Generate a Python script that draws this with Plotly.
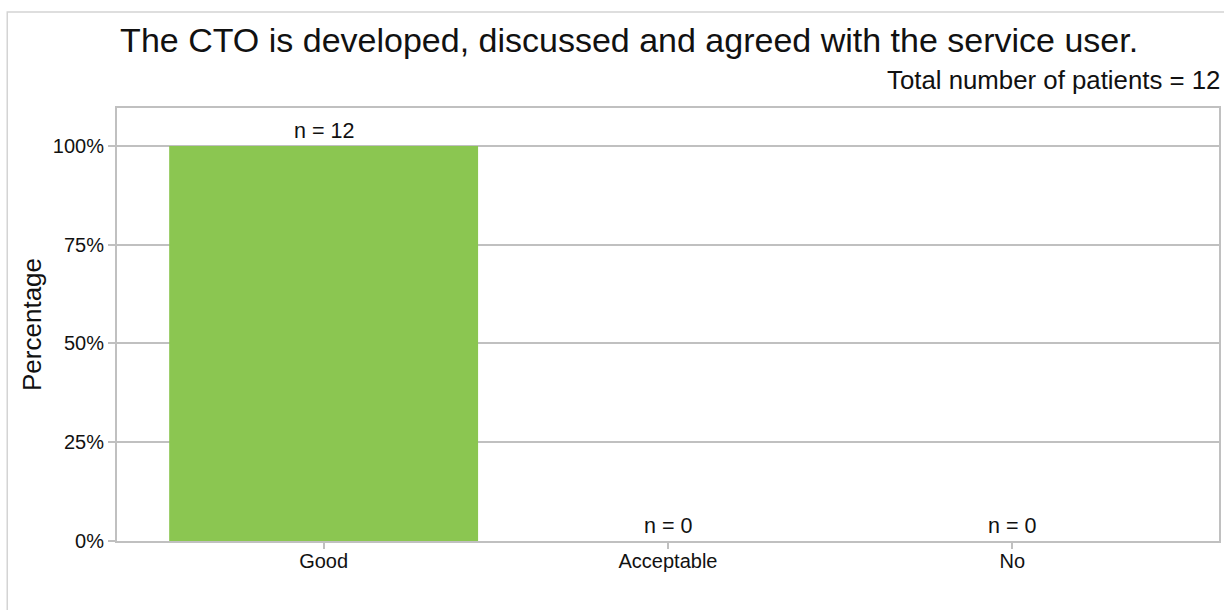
import plotly.graph_objects as go

categories = ["Good", "Acceptable", "No"]
percentages = [100, 0, 0]
counts = [12, 0, 0]
total_patients = 12
y_ticks = [0, 25, 50, 75, 100]
y_tick_labels = ["0%", "25%", "50%", "75%", "100%"]

GRID = "#c0c0c0"
FONT = "Liberation Sans, Arial, sans-serif"

fig = go.Figure(
    go.Bar(
        x=list(range(len(categories))),
        y=percentages,
        width=0.897,
        marker=dict(color="#8bc651", line=dict(width=0)),
        hoverinfo="skip",
    )
)

annotations = [
    dict(x=i, y=p, text=f"n = {n}", showarrow=False, yanchor="middle",
         yshift=15, font=dict(size=21.5, color="#111111"))
    for i, (p, n) in enumerate(zip(percentages, counts))
]
annotations.append(
    dict(xref="paper", yref="paper", x=1.0, y=1.0, yshift=12, xshift=3,
         xanchor="right", yanchor="bottom", showarrow=False,
         text=f"Total number of patients = {total_patients}",
         font=dict(size=25.8, color="#111111"))
)

fig.update_layout(
    width=1224,
    height=610,
    margin=dict(l=117, r=3, t=108, b=69),
    paper_bgcolor="white",
    plot_bgcolor="white",
    font=dict(family=FONT, color="#111111"),
    showlegend=False,
    title=dict(
        text="The CTO is developed, discussed and agreed with the service user.",
        x=0.514, xanchor="center", y=0.935, yanchor="middle",
        font=dict(size=34, color="#111111"),
    ),
    annotations=annotations,
    shapes=[
        dict(type="rect", xref="paper", yref="paper",
             x0=-0.0996, x1=1.02, y0=-0.2, y1=1.2217,
             line=dict(color="#d4d4d4", width=1.5), layer="below"),
    ],
    xaxis=dict(
        range=[-0.6, len(categories) - 0.4],
        tickvals=list(range(len(categories))),
        ticktext=categories,
        showgrid=False, zeroline=False,
        showline=True, linecolor=GRID, linewidth=2, mirror=True,
        ticks="outside", ticklen=6, tickwidth=2, tickcolor=GRID,
        ticklabelstandoff=-5,
        tickfont=dict(size=20),
    ),
    yaxis=dict(
        range=[0, 109.6],
        tickvals=y_ticks,
        ticktext=y_tick_labels,
        showgrid=True, gridcolor=GRID, gridwidth=2,
        zeroline=False,
        showline=True, linecolor=GRID, linewidth=2, mirror=True,
        ticks="outside", ticklen=7, tickwidth=2, tickcolor=GRID,
        tickfont=dict(size=20),
        title=dict(text="Percentage", font=dict(size=26), standoff=4),
    ),
)

fig.write_html("out.html")
